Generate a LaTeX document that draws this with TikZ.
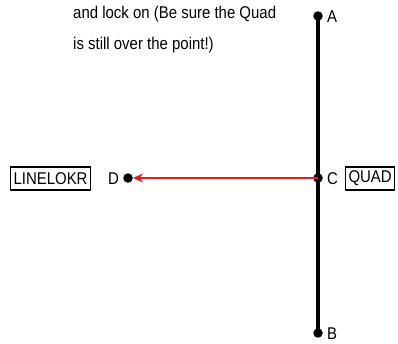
\documentclass[tikz,border=0pt]{standalone}
\usepackage{fontspec}
\setmainfont[FakeStretch=0.88]{Liberation Sans}
\usetikzlibrary{arrows.meta}
\definecolor{arrowred}{RGB}{225,32,38}
\begin{document}
\begin{tikzpicture}[x=1pt,y=-1pt,
  lbl/.style={font=\fontsize{17}{20}\selectfont, inner sep=0pt},
  cmdbox/.style={draw, line width=1.1pt, font=\fontsize{17}{20}\selectfont, inner sep=3pt, minimum height=23pt},
  pt/.style={circle, fill=black, inner sep=0pt, minimum size=9.5pt},
  axisline/.style={line width=3.2pt},
  redarrow/.style={draw=arrowred, line width=2.2pt, -{Stealth[length=10pt,width=9pt]}}]
\useasboundingbox (0,0) rectangle (398,343);
\node[lbl, anchor=west] (t1) at (73,14) {and lock on (Be sure the Quad};
\node[lbl, anchor=west] (t2) at (73,45) {is still over the point!)};
\node[pt] (A) at (318,16) {};
\node[pt] (C) at (318,178) {};
\node[pt] (B) at (318,333) {};
\node[pt] (D) at (128,178) {};
\draw[axisline] (A.center) -- (B.center);
\draw[redarrow] (C.center) -- (D.east);
\node[lbl, anchor=west] (la) at (327,17) {A};
\node[lbl, anchor=west] (lb) at (327,334) {B};
\node[lbl, anchor=west] (lc) at (327,179) {C};
\node[lbl, anchor=west] (ld) at (108,179) {D};
\node[cmdbox, anchor=west] (quad) at (345,178.5) {QUAD};
\node[cmdbox, anchor=west] (lin) at (10,178.5) {LINELOKR};
\end{tikzpicture}
\end{document}
